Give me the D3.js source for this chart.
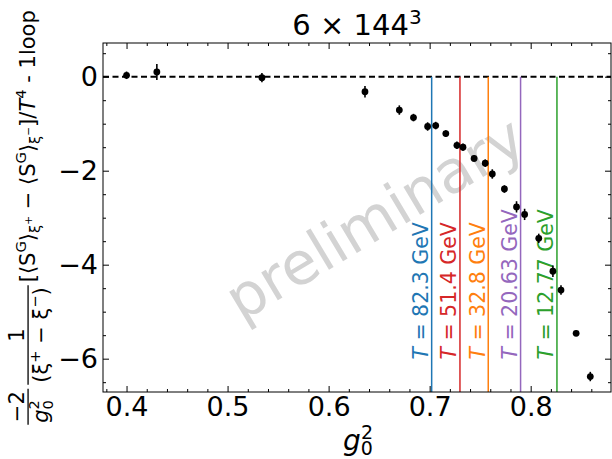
<!DOCTYPE html>
<html>
<head>
<meta charset="utf-8">
<script src="https://cdn.jsdelivr.net/npm/d3@7"></script>
<style>
  body { margin: 0; background: #fff; }
  svg text { font-family: "DejaVu Sans", sans-serif; white-space: pre; }
</style>
</head>
<body>
<svg id="chart" width="612" height="459"></svg>
<script>
// data
const g2 = [0.400, 0.430, 0.534, 0.636, 0.670, 0.684, 0.698, 0.706, 0.716, 0.727, 0.733,
            0.744, 0.755, 0.762, 0.774, 0.786, 0.794, 0.808, 0.822, 0.830, 0.845, 0.859];
const diff = [0.03, 0.10, -0.02, -0.32, -0.71, -0.87, -1.06, -1.04, -1.21, -1.46, -1.50,
              -1.74, -1.84, -2.07, -2.39, -2.77, -2.93, -3.44, -4.14, -4.54, -5.46, -6.38];
const err = [0.08, 0.17, 0.10, 0.12, 0.10, 0.08, 0.09, 0.08, 0.07, 0.08, 0.08,
             0.07, 0.08, 0.10, 0.08, 0.12, 0.12, 0.10, 0.12, 0.10, 0.06, 0.10];

const tLines = [0.702, 0.730, 0.758, 0.790, 0.826];
const tLabels = ["82.3", "51.4", "32.8", "20.63", "12.77"];
const tColors = ["#1f77b4", "#d62728", "#ff7f0e", "#9467bd", "#2ca02c"];

const xTicks = [0.4, 0.5, 0.6, 0.7, 0.8];
const yTicks = [-6, -4, -2, 0];

const svg = d3.select("#chart");
const pLeft = 103, pRight = 611, pTop = 43, pBottom = 392;

const x = d3.scaleLinear().domain([0.3767, 0.8795]).range([pLeft, pRight]);
const y = d3.scaleLinear().domain([0.717, -6.709]).range([pTop, pBottom]);

// watermark
svg.append("text")
    .attr("transform", "translate(377,222) rotate(-31)")
    .attr("text-anchor", "middle")
    .attr("dominant-baseline", "middle")
    .attr("font-size", 59)
    .attr("fill", "#d3d3d3")
    .text("preliminary");

// zero line
svg.append("line")
    .attr("x1", pLeft).attr("x2", pRight)
    .attr("y1", y(0)).attr("y2", y(0))
    .attr("stroke", "#000").attr("stroke-width", 2)
    .attr("stroke-dasharray", "6,3.5");

// temperature lines + labels
tLines.forEach(function (v, i) {
    svg.append("line")
        .attr("x1", x(v)).attr("x2", x(v))
        .attr("y1", y(0)).attr("y2", pBottom)
        .attr("stroke", tColors[i]).attr("stroke-width", 1.5);
    let t = svg.append("text")
        .attr("transform", "translate(" + (x(v) - 3.5) + "," + y(-6.02) + ") rotate(-90)")
        .attr("font-size", 20.5)
        .attr("fill", tColors[i]);
    t.append("tspan").attr("font-style", "italic").text("T");
    t.append("tspan").text(" = " + tLabels[i] + " GeV");
});

// error bars and points
let pts = svg.append("g");
g2.forEach(function (v, i) {
    pts.append("line")
        .attr("x1", x(v)).attr("x2", x(v))
        .attr("y1", y(diff[i] - err[i])).attr("y2", y(diff[i] + err[i]))
        .attr("stroke", "#000").attr("stroke-width", 1.6);
});
pts.selectAll("circle").data(g2).enter().append("circle")
    .attr("cx", d => x(d))
    .attr("cy", (d, i) => y(diff[i]))
    .attr("r", 3.4)
    .attr("fill", "#000");

// axes, ticks pointing inward on all four sides
const xMinor = d3.range(0.38, 0.88, 0.02).filter(v => Math.abs(v * 10 - Math.round(v * 10)) > 1e-6);
const yMinor = d3.range(-6.5, 0.75, 0.5).filter(v => Math.abs(v / 2 - Math.round(v / 2)) > 1e-6);

function styleAxis(g) {
    g.select(".domain").remove();
    g.selectAll("line").attr("stroke", "#000").attr("stroke-width", 1);
    g.selectAll("text").attr("font-size", 27).attr("fill", "#000")
        .style("font-family", "DejaVu Sans, sans-serif");
}

svg.append("g").attr("transform", "translate(0," + pBottom + ")")
    .call(d3.axisBottom(x).tickValues(xTicks).tickFormat(d3.format(".1f")).tickSize(-6).tickPadding(5))
    .call(styleAxis);
svg.append("g").attr("transform", "translate(0," + pBottom + ")")
    .call(d3.axisBottom(x).tickValues(xMinor).tickFormat("").tickSize(-3))
    .call(styleAxis);
svg.append("g").attr("transform", "translate(0," + pTop + ")")
    .call(d3.axisTop(x).tickValues(xTicks).tickFormat("").tickSize(-6))
    .call(styleAxis);
svg.append("g").attr("transform", "translate(0," + pTop + ")")
    .call(d3.axisTop(x).tickValues(xMinor).tickFormat("").tickSize(-3))
    .call(styleAxis);

svg.append("g").attr("transform", "translate(" + pLeft + ",0)")
    .call(d3.axisLeft(y).tickValues(yTicks).tickFormat(d3.format("d")).tickSize(-6).tickPadding(5))
    .call(styleAxis);
svg.append("g").attr("transform", "translate(" + pLeft + ",0)")
    .call(d3.axisLeft(y).tickValues(yMinor).tickFormat("").tickSize(-3))
    .call(styleAxis);
svg.append("g").attr("transform", "translate(" + pRight + ",0)")
    .call(d3.axisRight(y).tickValues(yTicks).tickFormat("").tickSize(-6))
    .call(styleAxis);
svg.append("g").attr("transform", "translate(" + pRight + ",0)")
    .call(d3.axisRight(y).tickValues(yMinor).tickFormat("").tickSize(-3))
    .call(styleAxis);

svg.append("rect")
    .attr("x", pLeft).attr("y", pTop)
    .attr("width", pRight - pLeft).attr("height", pBottom - pTop)
    .attr("fill", "none").attr("stroke", "#000").attr("stroke-width", 1);

// title
let title = svg.append("text")
    .attr("x", (pLeft + pRight) / 2).attr("y", 35)
    .attr("text-anchor", "middle").attr("font-size", 29);
title.append("tspan").text("6 \u00d7 144");
title.append("tspan").attr("dy", -11).attr("font-size", 20).text("3");

// x label
let xl = svg.append("text")
    .attr("x", (pLeft + pRight) / 2 - 14).attr("y", 450)
    .attr("font-size", 28);
xl.append("tspan").attr("font-style", "italic").text("g");
xl.append("tspan").attr("dy", 5).attr("font-size", 19).text("0");
xl.append("tspan").attr("dy", -16).attr("dx", -12).attr("font-size", 19).text("2");

// y label (rotated, built piece by piece)
const FS = 21;
const yl = svg.append("g").attr("transform", "translate(35," + ((pTop + pBottom) / 2) + ") rotate(-90)");
const inner = yl.append("g");

function run(g, px, py, segs) {
    let t = g.append("text").attr("x", px).attr("y", py).attr("font-size", FS);
    let off = 0;
    segs.forEach(function (s) {
        let o = s[1] || {};
        let target = o.dy || 0;
        let ts = t.append("tspan").attr("dy", target - off).text(s[0]);
        off = target;
        if (o.sz) ts.attr("font-size", FS * o.sz);
        if (o.it) ts.attr("font-style", "italic");
        if (o.dx) ts.attr("dx", o.dx);
    });
    return t.node().getComputedTextLength();
}

const barY = -0.33 * FS;
function frac(g, px, num, den) {
    let gn = g.append("g"), gd = g.append("g");
    let wn = run(gn, 0, barY - 4, num);
    let wd = run(gd, 0, barY + 4 + 0.76 * FS, den);
    let w = Math.max(wn, wd) + 4;
    gn.attr("transform", "translate(" + (px + (w - wn) / 2) + ",0)");
    gd.attr("transform", "translate(" + (px + (w - wd) / 2) + ",0)");
    g.append("line").attr("x1", px).attr("x2", px + w)
        .attr("y1", barY).attr("y2", barY)
        .attr("stroke", "#000").attr("stroke-width", 1.3);
    return w;
}

let cx = 0;
cx += frac(inner, cx, [["\u22122"]],
    [["g", {it: true}], ["0", {sz: 0.7, dy: 5}], ["2", {sz: 0.7, dy: -9, dx: -0.636 * FS * 0.7}]]);
cx += 4;
cx += frac(inner, cx, [["1"]],
    [["(\u03be"], ["+", {sz: 0.7, dy: -8}], [" \u2212 \u03be"], ["\u2212", {sz: 0.7, dy: -8}], [")"]]);
cx += 3;
const sub = 5, subsup = 1;
cx += run(inner, cx, 0, [
    ["[\u27e8S"], ["G", {sz: 0.7, dy: -9}], ["\u27e9"],
    ["\u03be", {sz: 0.7, dy: sub}], ["+", {sz: 0.5, dy: subsup - 4}],
    [" \u2212 \u27e8S"], ["G", {sz: 0.7, dy: -9}], ["\u27e9"],
    ["\u03be", {sz: 0.7, dy: sub}], ["\u2212", {sz: 0.5, dy: subsup - 4}],
    ["]/"], ["T", {it: true}], ["4", {sz: 0.7, dy: -9}], [" - 1loop"]
]);
inner.attr("transform", "translate(" + (-cx / 2) + ",0)");
</script>
</body>
</html>
